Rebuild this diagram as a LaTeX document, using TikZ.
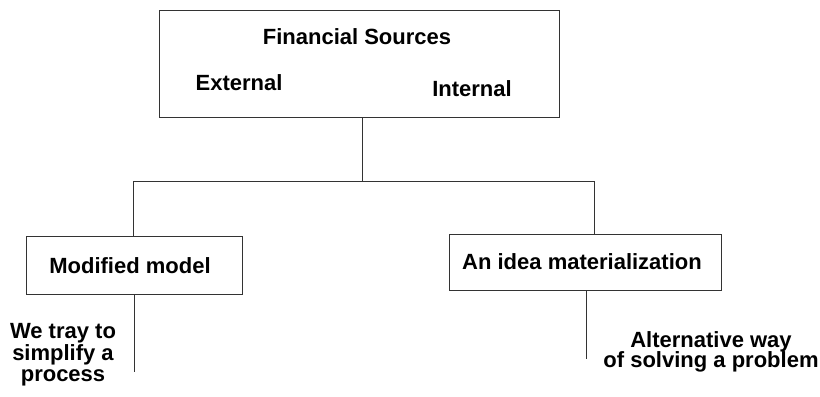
\documentclass[tikz,border=0pt]{standalone}
\usepackage{fontspec}
\setmainfont{Liberation Sans}
\usetikzlibrary{calc}

\newcommand{\tightlines}{\lineskiplimit=-20pt\relax}

\tikzset{every picture/.style={line width=0.75pt}}
\tikzset{
  boxnode/.style={draw={rgb, 255:red, 51; green, 51; blue, 51 }, inner sep=0pt, outer sep=0pt},
  txtnode/.style={inner sep=0.75pt, font=\fontsize{16.5}{20}\selectfont\bfseries, align=center},
  wire/.style={color={rgb, 255:red, 51; green, 51; blue, 51 }}
}

\begin{document}
\begin{tikzpicture}[x=0.75pt,y=0.75pt,yscale=-1,xscale=1]
\useasboundingbox (0,0) rectangle (820,396);

%Shape: Rectangle [id:sources]
\node [boxnode, minimum width=300pt, minimum height=80.25pt] (sources) at (359,63.5) {};
%Shape: Rectangle [id:model]
\node [boxnode, minimum width=162pt, minimum height=43.5pt] (model) at (134,265) {};
%Shape: Rectangle [id:idea]
\node [boxnode, minimum width=204pt, minimum height=42pt] (idea) at (585,262) {};

% Text Node
\node [txtnode] (fintitle) at (357,37) {Financial Sources};
% Text Node
\node [txtnode] (external) at (239,83) {External};
% Text Node
\node [txtnode] (internal) at (472,89) {Internal};
% Text Node
\node [txtnode] (modeltxt) at (130,266) {Modified model};
% Text Node
\node [txtnode] (ideatxt) at (582,262) {An idea materialization};
% Text Node
\node [txtnode, font=\fontsize{16.5}{16}\selectfont\bfseries\tightlines] (simplify) at (63,355) {We tray to\\simplify a\\process};
% Text Node
\node [txtnode, font=\fontsize{16.5}{15}\selectfont\bfseries\tightlines] (solving) at (711,352) {Alternative way\\of solving a problem};

%Straight Lines [id:bus]
\coordinate (trunk) at (362,181);
\coordinate (busL) at (133,181);
\coordinate (busR) at (594,181);
\coordinate (endL) at (134,372);
\coordinate (endR) at (586,359);
\draw [wire] (sources.south -| trunk) -- (trunk);
\draw [wire] (busL |- model.north) -- (busL) -- (busR) -- (busR |- idea.north);
\draw [wire] (endL |- model.south) -- (endL);
\draw [wire] (endR |- idea.south) -- (endR);

\end{tikzpicture}
\end{document}
